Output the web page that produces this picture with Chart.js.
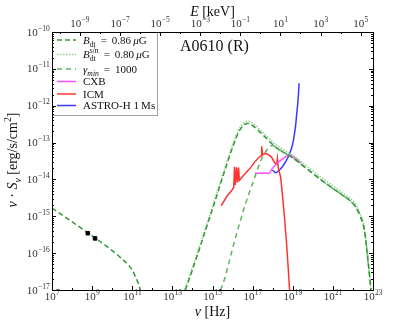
<!DOCTYPE html>
<html>
<head>
<meta charset="utf-8">
<title>A0610 (R)</title>
<script src="https://cdn.jsdelivr.net/npm/chart.js@4.4.1/dist/chart.umd.min.js"></script>
<style>
  html, body { margin: 0; padding: 0; background: #fff; }
  canvas { display: block; }
</style>
</head>
<body>
<canvas id="sed" width="415" height="323"></canvas>
<script>
// every value is log10: frequency in Hz, nu*S_nu in erg/s/cm^2
var radioNu   = [8.785, 9.146];
var radioFlux = [-15.46, -15.60];

var syncNu    = [7.0, 8.0, 9.0, 10.0, 10.5, 10.8, 11.0, 11.15, 11.3, 11.4];
var syncFlux  = [-14.78, -15.15, -15.53, -15.93, -16.16, -16.32, -16.46, -16.63, -16.82, -17.0];

var icNu      = [13.65, 14.0, 14.4, 15.0, 15.5, 16.0, 16.3, 16.55, 16.75, 17.0, 17.6, 18.23, 18.9, 19.4, 20.5, 21.3, 21.9, 22.1, 22.35, 22.57, 22.73, 22.9];
var icFlux    = [-17.0, -16.45, -15.8, -14.8, -13.95, -13.13, -12.72, -12.53, -12.48, -12.54, -12.84, -13.16, -13.38, -13.58, -14.05, -14.36, -14.60, -14.72, -14.98, -15.37, -16.1, -17.0];

var icSnNu    = [13.6, 14.0, 14.4, 15.0, 15.5, 16.0, 16.3, 16.55, 16.75, 17.0, 17.6, 18.23, 18.9, 19.4, 20.5, 21.3, 21.9, 22.1, 22.35, 22.57, 22.73, 22.91];
var icSnFlux  = [-17.0, -16.39, -15.74, -14.74, -13.89, -13.07, -12.66, -12.47, -12.42, -12.48, -12.77, -13.09, -13.31, -13.51, -13.98, -14.29, -14.53, -14.65, -14.92, -15.32, -16.05, -17.0];

var gminNu    = [15.4, 15.6, 15.8, 16.07, 16.4, 16.65, 17.07, 17.4, 17.65, 17.98, 18.23, 18.9, 19.4, 20.5, 21.3, 21.9, 22.1, 22.35, 22.57, 22.73, 22.9];
var gminFlux  = [-17.0, -16.7, -16.3, -15.73, -15.1, -14.65, -14.0, -13.5, -13.25, -13.08, -13.16, -13.38, -13.58, -14.05, -14.36, -14.60, -14.72, -14.98, -15.37, -16.1, -17.0];

var cxbNu     = [17.115, 17.815, 17.985, 18.15, 18.315, 18.6, 18.815, 19.0, 19.15, 19.4];
var cxbFlux   = [-13.833, -13.833, -13.70, -13.6, -13.52, -13.4, -13.34, -13.37, -13.43, -13.56];

var icmNu     = [15.435, 15.7, 15.985, 16.06, 16.1, 16.13, 16.2, 16.24, 16.3, 16.34, 16.5, 16.7, 16.9, 17.1, 17.3, 17.42, 17.45, 17.5, 17.65, 17.8, 17.95, 18.1, 18.2, 18.235, 18.28, 18.4, 18.5, 18.6, 18.7, 18.78, 18.84];
var icmFlux   = [-14.72, -14.47, -14.28, -14.22, -13.66, -14.15, -13.67, -14.08, -13.68, -14.03, -13.92, -13.8, -13.68, -13.53, -13.41, -13.36, -13.1, -13.33, -13.3, -13.33, -13.4, -13.55, -13.58, -13.43, -13.68, -13.95, -14.5, -15.1, -15.8, -16.45, -17.0];

var astroNu   = [17.985, 18.15, 18.3, 18.485, 18.65, 18.815, 18.985, 19.065, 19.15, 19.2, 19.265, 19.315];
var astroFlux = [-13.744, -13.817, -13.76, -13.654, -13.519, -13.337, -13.066, -12.84, -12.5, -12.206, -11.845, -11.39];

var xTickExp = [7, 9, 11, 13, 15, 17, 19, 21, 23];
var eTickExp = [-9, -7, -5, -3, -1, 1, 3, 5];
var yTickExp = [-17, -16, -15, -14, -13, -12, -11, -10];

var KEV_PER_HZ = 4.1357e-18;
var FONT = '"Liberation Serif", "DejaVu Serif", serif';

function pts(nu, fl) {
    return nu.map(function (n, i) {
        return { x: Math.pow(10, n), y: Math.pow(10, fl[i]) };
    });
}

function curve(label, data, color, dash, smooth) {
    return {
        label: label,
        data: data,
        showLine: true,
        borderColor: color,
        borderWidth: 1.5,
        borderDash: dash,
        pointRadius: 0,
        fill: false,
        cubicInterpolationMode: smooth ? 'monotone' : 'default',
        tension: 0
    };
}

var datasets = [
    curve('B_dt = 0.86 μG', pts(icNu, icFlux), '#379737', [5, 3], true),
    curve('B_dt s/n = 0.80 μG', pts(icSnNu, icSnFlux), '#8fd18f', [1.5, 1.5], true),
    curve('γ_min = 1000', pts(gminNu, gminFlux), '#5cb85c', [5, 4], true),
    curve('CXB', pts(cxbNu, cxbFlux), '#ff4dff', [], true),
    curve('ICM', pts(icmNu, icmFlux), '#ff3333', [], false),
    curve('ASTRO-H 1 Ms', pts(astroNu, astroFlux), '#3a3aff', [], true),
    curve('synchrotron', pts(syncNu, syncFlux), '#379737', [5, 3], true),
    {
        label: 'radio',
        data: pts(radioNu, radioFlux),
        showLine: false,
        pointStyle: 'rect',
        pointRadius: 2.5,
        backgroundColor: '#000',
        borderColor: '#000',
        order: -1
    }
];

// legend rows: dataset index + rich text pieces
var legendRows = [
    { ds: 0, y: 40,   segs: [{ t: 'B', it: 1 }, { t: 'dt', sub: 1 }, { t: ' \u2009=\u2009 0.86\u2009' }, { t: 'μ', it: 1 }, { t: 'G' }] },
    { ds: 1, y: 54.5, segs: [{ t: 'B', it: 1 }, { t: 'dt', sub: 1, over: 's/n' }, { t: ' \u2009=\u2009 0.80\u2009' }, { t: 'μ', it: 1 }, { t: 'G' }] },
    { ds: 2, y: 69,   segs: [{ t: 'γ', it: 1 }, { t: 'min', sub: 1, it: 1 }, { t: ' \u2009=\u2009 1000' }] },
    { ds: 3, y: 81.5, segs: [{ t: 'CXB' }] },
    { ds: 4, y: 94,   segs: [{ t: 'ICM' }] },
    { ds: 5, y: 105.5, segs: [{ t: 'ASTRO-H 1\u2009Ms' }] }
];

function rich(ctx, segs, x, y, size, measureOnly) {
    var cx = x;
    segs.forEach(function (s) {
        var small = s.sub || s.sup;
        var sz = small ? size * 0.7 : size;
        ctx.font = (s.it ? 'italic ' : '') + sz + 'px ' + FONT;
        var dy = s.sub ? size * 0.3 : (s.sup ? -size * 0.42 : 0);
        var w = ctx.measureText(s.t).width;
        if (!measureOnly) ctx.fillText(s.t, cx, y + dy);
        if (s.over) {
            if (!measureOnly) ctx.fillText(s.over, cx, y - size * 0.45);
            w = Math.max(w, ctx.measureText(s.over).width);
        }
        cx += w;
    });
    return cx - x;
}

function richCentered(ctx, segs, cx, y, size) {
    var w = rich(ctx, segs, 0, 0, size, true);
    rich(ctx, segs, cx - w / 2, y, size, false);
}

function powLabel(ctx, e, x, y, align) {
    var base = '10', ex = String(e).replace('-', '\u2212');
    ctx.font = '11px ' + FONT;
    var w1 = ctx.measureText(base).width;
    ctx.font = '7.5px ' + FONT;
    var w2 = ctx.measureText(ex).width;
    var x0 = align === 'right' ? x - w1 - w2 : x - (w1 + w2) / 2;
    ctx.font = '11px ' + FONT;
    ctx.fillText(base, x0, y);
    ctx.font = '7.5px ' + FONT;
    ctx.fillText(ex, x0 + w1 + 0.3, y - 5);
}

function line(ctx, x1, y1, x2, y2) {
    ctx.beginPath();
    ctx.moveTo(x1, y1);
    ctx.lineTo(x2, y2);
    ctx.stroke();
}

var decor = {
    id: 'decor',
    afterDraw: function (chart) {
        var ctx = chart.ctx, a = chart.chartArea;
        var xs = chart.scales.x, ys = chart.scales.y;
        var e, m, p;
        ctx.save();
        ctx.textBaseline = 'alphabetic';
        ctx.textAlign = 'left';

        // legend box
        ctx.fillStyle = '#fff';
        ctx.fillRect(a.left, a.top, 105, 83);
        ctx.strokeStyle = '#a0a0a0';
        ctx.lineWidth = 1;
        ctx.strokeRect(a.left + 0.5, a.top + 0.5, 105, 83);
        legendRows.forEach(function (r) {
            var ds = chart.data.datasets[r.ds];
            ctx.strokeStyle = ds.borderColor;
            ctx.lineWidth = ds.borderWidth;
            ctx.setLineDash(ds.borderDash || []);
            line(ctx, 57, r.y, 76, r.y);
            ctx.setLineDash([]);
            ctx.fillStyle = '#111';
            rich(ctx, r.segs, 83, r.y + 3.5, 11, false);
        });

        // frame
        ctx.strokeStyle = '#000';
        ctx.lineWidth = 1;
        ctx.strokeRect(a.left + 0.5, a.top + 0.5, a.right - a.left, a.bottom - a.top);

        // bottom ticks (nu)
        for (e = 7; e <= 23; e++) {
            p = Math.round(xs.getPixelForValue(Math.pow(10, e))) + 0.5;
            line(ctx, p, a.bottom, p, a.bottom - (e % 2 ? 4 : 2));
        }
        // top ticks (E)
        for (e = -10; e <= 5; e++) {
            var nu = Math.pow(10, e) / KEV_PER_HZ;
            if (nu < 1e7 || nu > 1e23) continue;
            p = Math.round(xs.getPixelForValue(nu)) + 0.5;
            line(ctx, p, a.top, p, a.top + (e % 2 ? 4 : 2));
        }
        // left / right ticks
        for (e = -17; e < -10; e++) {
            for (m = 1; m <= 9; m++) {
                p = Math.round(ys.getPixelForValue(m * Math.pow(10, e))) + 0.5;
                var len = m === 1 ? 4 : 2;
                line(ctx, a.left, p, a.left + len, p);
                line(ctx, a.right, p, a.right - len, p);
            }
        }

        // tick labels
        ctx.fillStyle = '#333';
        xTickExp.forEach(function (e) {
            powLabel(ctx, e, xs.getPixelForValue(Math.pow(10, e)), a.bottom + 10, 'center');
        });
        eTickExp.forEach(function (e) {
            powLabel(ctx, e, xs.getPixelForValue(Math.pow(10, e) / KEV_PER_HZ), a.top - 5, 'center');
        });
        yTickExp.forEach(function (e) {
            powLabel(ctx, e, a.left - 2.5, ys.getPixelForValue(Math.pow(10, e)) + 3.5, 'right');
        });

        // axis titles
        ctx.fillStyle = '#111';
        var cx = (a.left + a.right) / 2;
        richCentered(ctx, [{ t: 'E', it: 1 }, { t: ' [keV]' }], cx, 16, 14);
        richCentered(ctx, [{ t: 'ν', it: 1 }, { t: ' [Hz]' }], cx, 316, 14);
        ctx.save();
        ctx.translate(17, 160);
        ctx.rotate(-Math.PI / 2);
        richCentered(ctx, [{ t: 'ν', it: 1 }, { t: ' · ' }, { t: 'S', it: 1 }, { t: 'ν', it: 1, sub: 1 },
            { t: ' [erg/s/cm' }, { t: '2', sup: 1 }, { t: ']' }], 0, 0, 14);
        ctx.restore();

        // cluster name
        ctx.font = '16px ' + FONT;
        ctx.fillText('A0610 (R)', 180, 51);
        ctx.restore();
    }
};

new Chart(document.getElementById('sed'), {
    type: 'scatter',
    data: { datasets: datasets },
    options: {
        responsive: false,
        animation: false,
        devicePixelRatio: 1,
        layout: { padding: { left: 52, right: 42, top: 32, bottom: 33 } },
        plugins: { legend: { display: false }, tooltip: { enabled: false } },
        scales: {
            x: { type: 'logarithmic', min: 1e7, max: 1e23, display: false },
            y: { type: 'logarithmic', min: 1e-17, max: 1e-10, display: false }
        }
    },
    plugins: [decor]
});
</script>
</body>
</html>
